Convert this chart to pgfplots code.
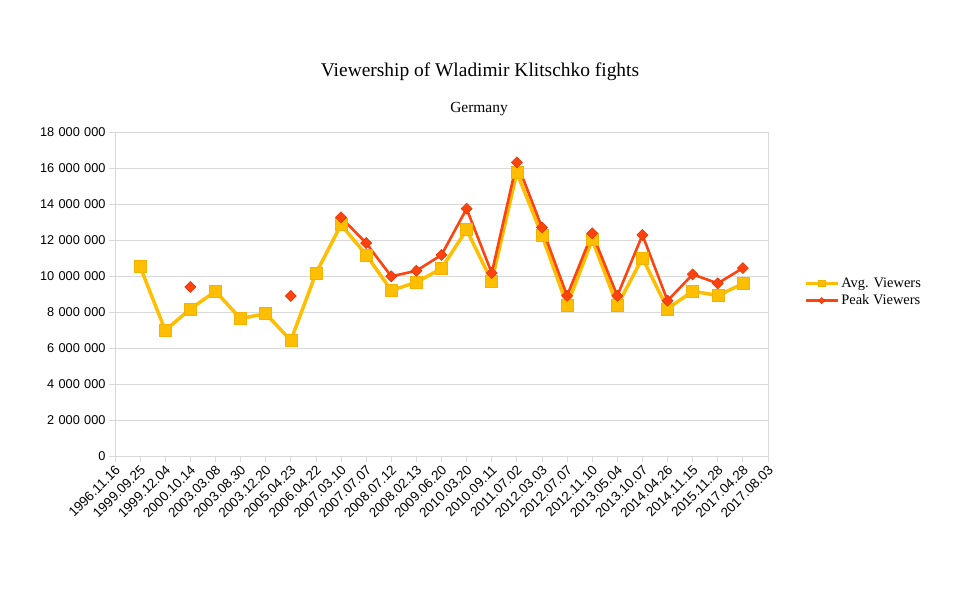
\documentclass[border=0pt]{standalone}
\usepackage{fontspec}
\setmainfont{Liberation Serif}
\newfontfamily\sansf{Liberation Sans}
\usepackage{pgfplots}
\pgfplotsset{compat=1.18}
\definecolor{avgc}{HTML}{FFBF00}
\definecolor{avge}{HTML}{F2B300}
\definecolor{peakc}{HTML}{FF420E}
\definecolor{peake}{HTML}{E0380A}
\definecolor{gridc}{HTML}{D9D9D9}
\begin{document}
\begin{tikzpicture}
\path[use as bounding box] (0bp,0bp) rectangle (960bp,593bp);
\node[font=\fontsize{19.5}{22}\selectfont] at (480bp,521bp) {Viewership of Wladimir Klitschko fights};
\node[font=\fontsize{15.5}{18}\selectfont] at (479bp,484bp) {Germany};
\begin{axis}[
  at={(115bp,137bp)}, anchor=south west,
  scale only axis, width=653bp, height=324bp,
  xmin=0, xmax=26, ymin=0, ymax=18000000,
  xtick={0,...,26},
  xticklabels={1996.11.16,1999.09.25,1999.12.04,2000.10.14,2003.03.08,2003.08.30,2003.12.20,2005.04.23,2006.04.22,2007.03.10,2007.07.07,2008.07.12,2008.02.13,2009.06.20,2010.03.20,2010.09.11,2011.07.02,2012.03.03,2012.07.07,2012.11.10,2013.05.04,2013.10.07,2014.04.26,2014.11.15,2015.11.28,2017.04.28,2017.08.03},
  xticklabel style={rotate=45, anchor=north east, font=\sansf\fontsize{13.5}{15}\selectfont, inner sep=1pt, xshift=-1bp},
  ytick={0,2000000,...,18000000},
  yticklabel style={font=\sansf\fontsize{12.8}{14}\selectfont},
  scaled y ticks=false,
  /pgf/number format/assume math mode=true,
  /pgf/number format/.cd, fixed, precision=0, 1000 sep={\hspace{0.34em}},
  /pgfplots/.cd,
  ymajorgrids, grid style={gridc, line width=0.8pt},
  axis line style={gridc, line width=0.8pt},
  tick style={gridc, line width=0.8pt},
  tick align=outside, major tick length=6bp,
  xtick pos=bottom, ytick pos=left,
  unbounded coords=jump,
  legend style={at={(rel axis cs:1.0535,0.506)}, anchor=west, draw=none, fill=none,
    font=\fontsize{14.5}{16}\selectfont, row sep=2pt, inner sep=1pt},
  legend cell align=left,
  legend image code/.code={
    \draw[#1, mark repeat=2, mark phase=2, every mark/.append style={scale=0.55}] plot coordinates {(0cm,0cm) (0.56cm,0cm) (1.12cm,0cm)};},
]
\addplot[avgc, line width=3.5pt, mark=square*, mark size=6bp, mark options={fill=avgc, draw=avge, line width=0.5pt, solid}] coordinates {
(1,10520000) (2,6980000) (3,8170000) (4,9150000) (5,7630000) (6,7910000) (7,6420000) (8,10150000) (9,12850000) (10,11180000) (11,9200000) (12,9650000) (13,10420000) (14,12570000) (15,9700000) (16,15750000) (17,12260000) (18,8370000) (19,12020000) (20,8350000) (21,11000000) (22,8180000) (23,9150000) (24,8920000) (25,9570000)
};
\addlegendentry{Avg. Viewers}
\addplot[peakc, line width=2.6pt, mark=diamond*, mark size=5.5bp, mark options={fill=peakc, draw=peake, line width=0.6pt, solid, xscale=1.33}] coordinates {
(1,nan) (2,nan) (3,9390000) (4,nan) (5,nan) (6,nan) (7,8890000) (8,nan) (9,13260000) (10,11830000) (11,9980000) (12,10290000) (13,11170000) (14,13740000) (15,10170000) (16,16310000) (17,12700000) (18,8900000) (19,12370000) (20,8900000) (21,12280000) (22,8630000) (23,10090000) (24,9590000) (25,10440000)
};
\addlegendentry{Peak Viewers}
\end{axis}
\end{tikzpicture}
\end{document}
